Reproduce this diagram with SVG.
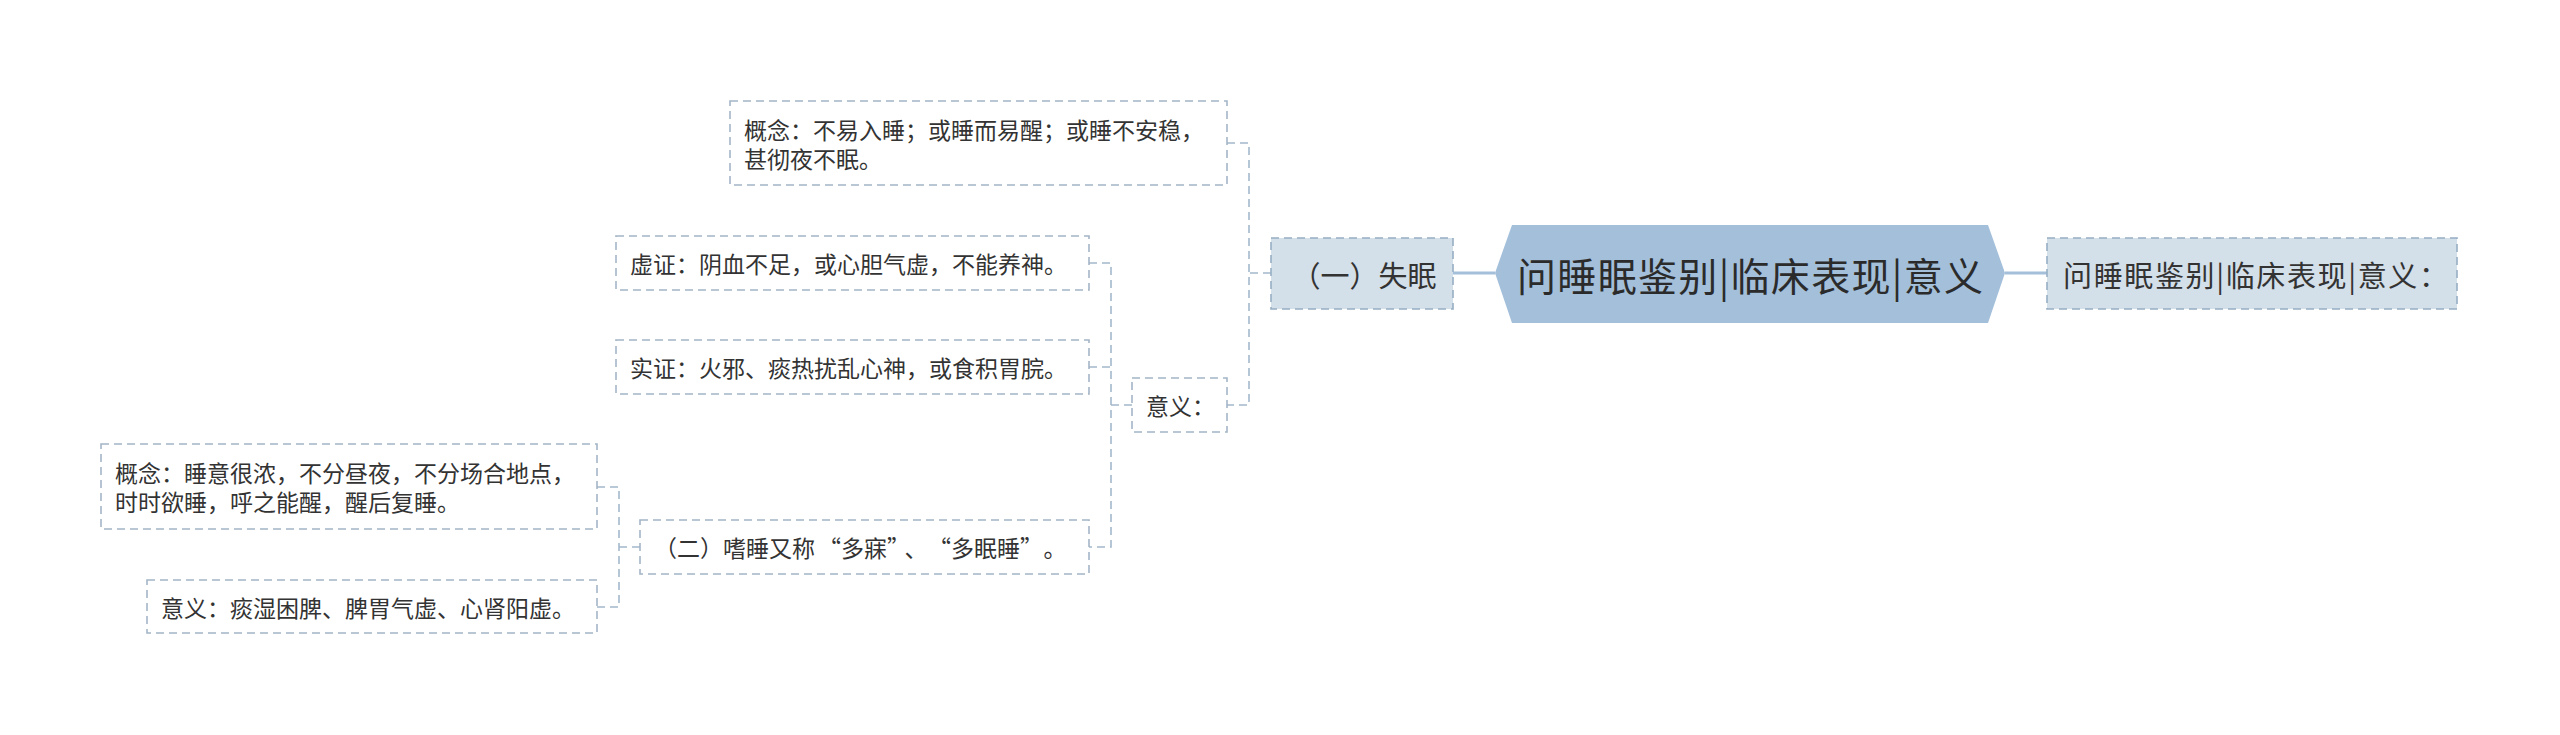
<svg xmlns="http://www.w3.org/2000/svg" width="2560" height="735" viewBox="0 0 2560 735">
<style>
.box{fill:#ffffff;stroke:#a3b5c7;stroke-width:1.6;stroke-dasharray:8 5}
.box2{fill:#d3dfe9;stroke:#97aec4;stroke-width:1.6;stroke-dasharray:8 5}
.t{font-family:"Noto Sans CJK SC","Noto Sans",sans-serif;fill:#333333;dominant-baseline:central}
.s{font-size:23px}
.m{font-size:29px}
.c{font-size:39px;fill:#2b2b2b}
.dash{fill:none;stroke:#a3b8cc;stroke-width:1.6;stroke-dasharray:8 5}
.solid{fill:none;stroke:#a3bfda;stroke-width:3}
</style>
<rect width="2560" height="735" fill="#ffffff"/>
<g id="connectors">
<line class="solid" x1="1453" y1="273" x2="1495" y2="273"/>
<line class="solid" x1="2005" y1="273" x2="2047" y2="273"/>
<path class="dash" d="M1271 273 H1249 M1227 143 H1249 V405 H1227"/>
<path class="dash" d="M1132 405 H1111 M1089 263 H1111 V547 H1089 M1089 367 H1111"/>
<path class="dash" d="M640 547 H619 M597 487 H619 V607 H597"/>
</g>
<g id="center">
<polygon points="1495,273 1512,225 1988,225 2005,273 1988,323 1512,323" fill="#a3bfda"/>
<text class="t c" x="1517" y="274" textLength="466" lengthAdjust="spacing">问睡眠鉴别|临床表现|意义</text>
</g>
<g id="right">
<rect class="box2" x="2047" y="238" width="410" height="71"/>
<text class="t m" x="2063" y="274" textLength="385" lengthAdjust="spacing">问睡眠鉴别|临床表现|意义：</text>
</g>
<g id="shimian">
<rect class="box2" x="1271" y="238" width="182" height="71"/>
<text class="t m" x="1364" y="274" text-anchor="middle">（一）失眠</text>
</g>
<g id="gainian1">
<rect class="box" x="730" y="101" width="497" height="84"/>
<text class="t s" x="744" y="128.5">概念：不易入睡；或睡而易醒；或睡不安稳，</text>
<text class="t s" x="744" y="157.5">甚彻夜不眠。</text>
</g>
<g id="yiyi1">
<rect class="box" x="1132" y="378" width="95" height="54"/>
<text class="t s" x="1146" y="405">意义：</text>
</g>
<g id="xuzheng">
<rect class="box" x="616" y="236" width="473" height="54"/>
<text class="t s" x="630" y="263">虚证：阴血不足，或心胆气虚，不能养神。</text>
</g>
<g id="shizheng">
<rect class="box" x="616" y="340" width="473" height="54"/>
<text class="t s" x="630" y="367">实证：火邪、痰热扰乱心神，或食积胃脘。</text>
</g>
<g id="shishui">
<rect class="box" x="640" y="520" width="449" height="54"/>
<text class="t s" x="654" y="547">（二）嗜睡又称<tspan dx="3">“</tspan>多寐”<tspan dx="6">、</tspan><tspan dx="12">“</tspan>多眠睡”<tspan dx="12">。</tspan></text>
</g>
<g id="gainian2">
<rect class="box" x="101" y="444" width="496" height="85"/>
<text class="t s" x="115" y="472">概念：睡意很浓，不分昼夜，不分场合地点，</text>
<text class="t s" x="115" y="501">时时欲睡，呼之能醒，醒后复睡。</text>
</g>
<g id="yiyi2">
<rect class="box" x="147" y="580" width="450" height="53"/>
<text class="t s" x="161" y="607">意义：痰湿困脾、脾胃气虚、心肾阳虚。</text>
</g>
</svg>
